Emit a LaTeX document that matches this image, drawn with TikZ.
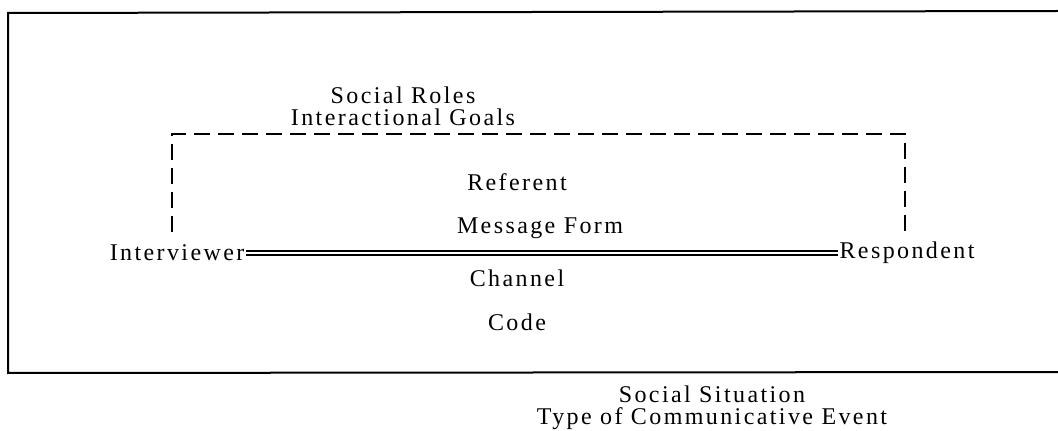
\documentclass[tikz,border=0pt]{standalone}
\usepackage{fontspec}
\newfontfamily\labelfont[LetterSpace=10]{Liberation Serif}
\usepackage{tikz}
\usetikzlibrary{positioning}
\tikzset{
  lbl/.style = {align=center, inner sep=1pt, text centered,
    font=\labelfont\fontsize{18}{16.5}\selectfont},
  talk/.style = {double, double distance=2.2pt, line width=0.9pt},
  relation/.style = {line width=0.9pt, dash pattern=on 12pt off 6pt}
}
\begin{document}
\begin{tikzpicture}[x=0.75pt, y=-0.75pt]
\useasboundingbox (0,0) rectangle (1058,431);
% situation frame, open on the right
\draw [line width=1.5pt] (1058,11) -- (8,13) -- (8,373) -- (1058,372);
\node [lbl] (roles) at (403,106) {Social Roles\\Interactional Goals};
\node [lbl] (referent) at (517,182) {Referent};
\node [lbl] (form) at (540,228) {Message Form};
\node [lbl, anchor=east] (interviewer) at (246,253) {Interviewer};
\node [lbl, anchor=west] (respondent) at (838,253) {Respondent};
\node [lbl] (channel) at (517,278) {Channel};
\node [lbl] (code) at (517,322) {Code};
\node [lbl] (situation) at (712,408) {Social Situation\\Type of Communicative Event};
\coordinate (dashtop) at (540,134);
\coordinate (leftleg) at (172,232);
\coordinate (rightleg) at (905,232);
\draw [talk] (interviewer) -- (respondent);
\draw [relation] (leftleg) -- (leftleg |- dashtop) -- (rightleg |- dashtop) -- (rightleg);
\end{tikzpicture}
\end{document}
